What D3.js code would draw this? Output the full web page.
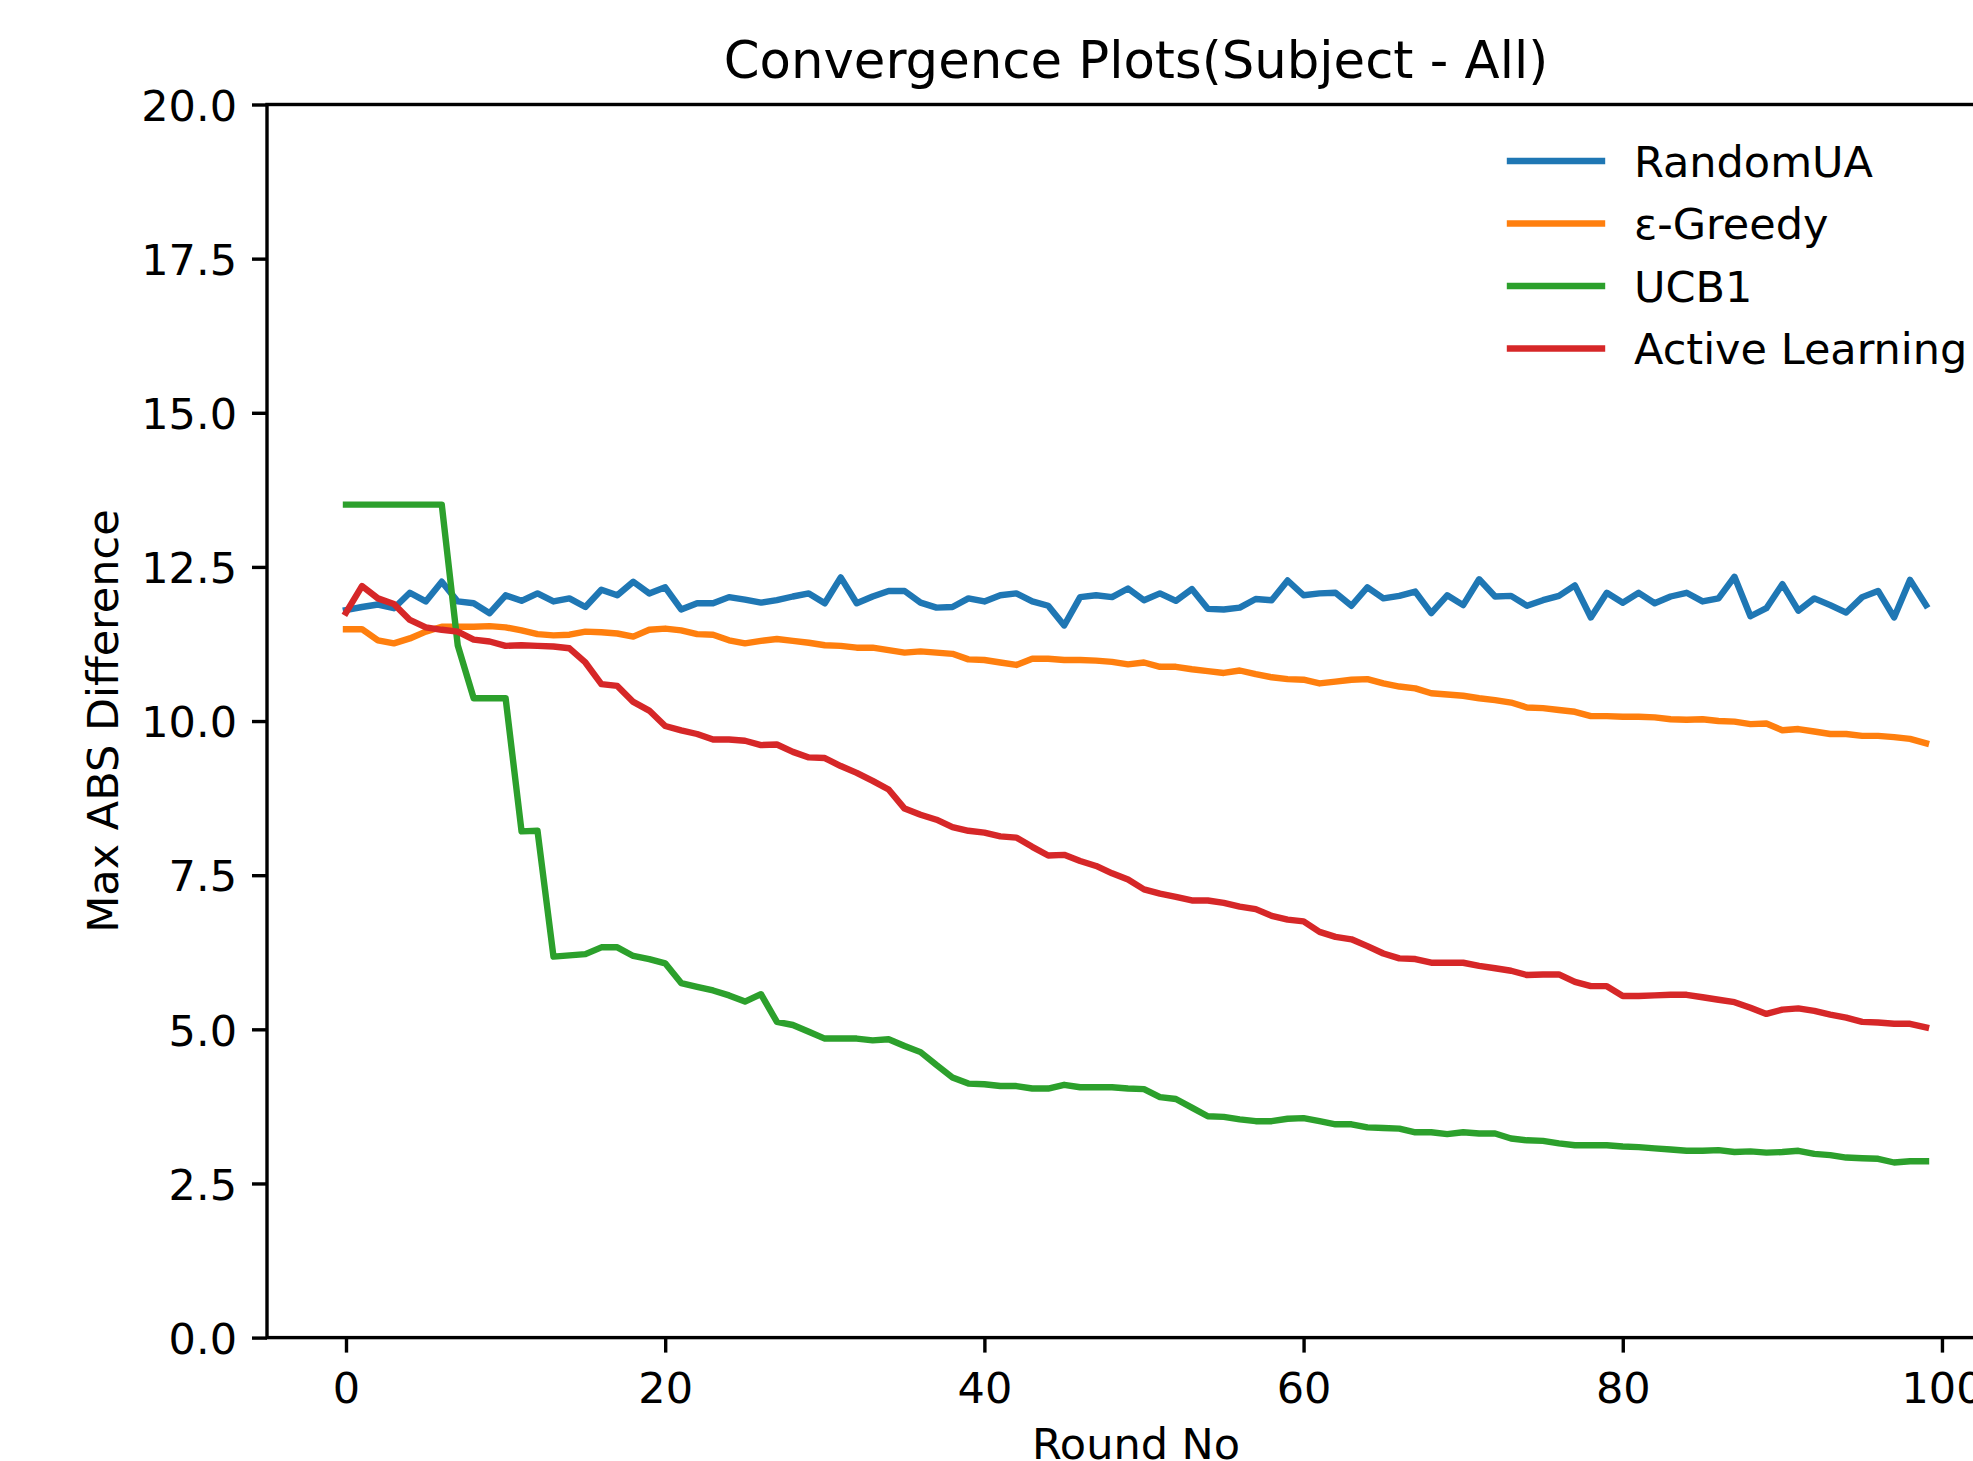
<!DOCTYPE html>
<html>
<head>
<meta charset="utf-8">
<script src="https://cdn.jsdelivr.net/npm/d3@7"></script>
<style>
html, body { margin: 0; padding: 0; background: #fff; overflow: hidden; }
svg { display: block; font-family: "DejaVu Sans", sans-serif; }
</style>
</head>
<body>
<svg id="chart" width="1973" height="1461"></svg>
<script>
const seriesNames = ["RandomUA", "ε-Greedy", "UCB1", "Active Learning"];
const seriesColors = ["#1f77b4", "#ff7f0e", "#2ca02c", "#d62728"];

const randomUA = [
  11.80, 11.85, 11.89, 11.83, 12.08, 11.94, 12.26, 11.94, 11.91, 11.75, 12.04, 11.95, 12.07, 11.94, 11.99, 11.85, 12.13, 12.04, 12.26, 12.07,
  12.17, 11.81, 11.91, 11.91, 12.01, 11.97, 11.92, 11.96, 12.02, 12.07, 11.91, 12.33, 11.91, 12.02, 12.11, 12.11, 11.92, 11.84, 11.85, 11.99,
  11.94, 12.04, 12.07, 11.94, 11.87, 11.55, 12.01, 12.04, 12.01, 12.15, 11.96, 12.07, 11.95, 12.14, 11.82, 11.81, 11.84, 11.98, 11.96, 12.28,
  12.04, 12.07, 12.08, 11.87, 12.17, 11.99, 12.03, 12.10, 11.75, 12.04, 11.88, 12.30, 12.02, 12.03, 11.87, 11.96, 12.03, 12.20, 11.68, 12.08,
  11.92, 12.08, 11.91, 12.02, 12.08, 11.94, 11.99, 12.34, 11.70, 11.83, 12.22, 11.79, 11.99, 11.88, 11.76, 12.01, 12.11, 11.68, 12.29, 11.88
];
const epsGreedy = [
  11.49, 11.49, 11.31, 11.26, 11.34, 11.45, 11.53, 11.53, 11.53, 11.54, 11.52, 11.47, 11.41, 11.39, 11.40, 11.45, 11.44, 11.42, 11.37, 11.48,
  11.50, 11.47, 11.41, 11.40, 11.31, 11.26, 11.30, 11.33, 11.30, 11.27, 11.23, 11.22, 11.19, 11.19, 11.15, 11.11, 11.13, 11.11, 11.09, 11.00,
  10.99, 10.95, 10.91, 11.01, 11.01, 10.99, 10.99, 10.98, 10.96, 10.92, 10.95, 10.88, 10.88, 10.84, 10.81, 10.78, 10.82, 10.76, 10.71, 10.68,
  10.67, 10.61, 10.64, 10.67, 10.68, 10.61, 10.56, 10.53, 10.45, 10.43, 10.41, 10.37, 10.34, 10.30, 10.22, 10.21, 10.18, 10.15, 10.08, 10.08,
  10.07, 10.07, 10.06, 10.03, 10.02, 10.03, 10.00, 9.99, 9.95, 9.96, 9.85, 9.87, 9.83, 9.79, 9.79, 9.76, 9.76, 9.74, 9.71, 9.64
];
const ucb1 = [
  13.51, 13.51, 13.51, 13.51, 13.51, 13.51, 13.51, 11.23, 10.37, 10.37, 10.37, 8.21, 8.22, 6.18, 6.20, 6.22, 6.33, 6.33, 6.19, 6.14,
  6.07, 5.75, 5.69, 5.63, 5.55, 5.45, 5.57, 5.12, 5.07, 4.96, 4.85, 4.85, 4.85, 4.82, 4.84, 4.73, 4.63, 4.42, 4.22, 4.12,
  4.11, 4.08, 4.08, 4.04, 4.04, 4.10, 4.06, 4.06, 4.06, 4.04, 4.03, 3.90, 3.87, 3.73, 3.59, 3.58, 3.54, 3.51, 3.51, 3.55,
  3.56, 3.51, 3.46, 3.46, 3.41, 3.40, 3.39, 3.33, 3.33, 3.30, 3.33, 3.31, 3.31, 3.23, 3.20, 3.19, 3.15, 3.12, 3.12, 3.12,
  3.10, 3.09, 3.07, 3.05, 3.03, 3.03, 3.04, 3.01, 3.02, 3.00, 3.01, 3.03, 2.98, 2.96, 2.92, 2.91, 2.90, 2.84, 2.86, 2.86
];
const activeLearning = [
  11.76, 12.19, 11.99, 11.90, 11.64, 11.52, 11.48, 11.45, 11.32, 11.29, 11.22, 11.23, 11.22, 11.21, 11.18, 10.95, 10.60, 10.57, 10.31, 10.17,
  9.92, 9.85, 9.79, 9.70, 9.70, 9.68, 9.61, 9.62, 9.50, 9.41, 9.40, 9.27, 9.16, 9.03, 8.89, 8.58, 8.48, 8.40, 8.28, 8.22,
  8.19, 8.13, 8.11, 7.96, 7.82, 7.83, 7.73, 7.65, 7.53, 7.43, 7.27, 7.20, 7.15, 7.09, 7.09, 7.05, 6.99, 6.95, 6.84, 6.78,
  6.75, 6.58, 6.50, 6.46, 6.35, 6.23, 6.15, 6.14, 6.08, 6.08, 6.08, 6.03, 5.99, 5.95, 5.88, 5.89, 5.89, 5.77, 5.70, 5.70,
  5.54, 5.54, 5.55, 5.56, 5.56, 5.52, 5.48, 5.44, 5.35, 5.25, 5.32, 5.34, 5.30, 5.24, 5.19, 5.12, 5.11, 5.09, 5.09, 5.03
];
const xTicks = [0, 20, 40, 60, 80, 100];
const yTicks = [0, 2.5, 5, 7.5, 10, 12.5, 15, 17.5, 20];
const titleText = "Convergence Plots(Subject - All)";
const xLabel = "Round No";
const yLabel = "Max ABS Difference";

const allSeries = [randomUA, epsGreedy, ucb1, activeLearning];

const svg = d3.select("#chart");
const L = 267, R = 2005, T = 104.5, B = 1337.6;
const x = d3.scaleLinear().domain([-4.95, 103.95]).range([L, R]);
const y = d3.scaleLinear().domain([0, 20]).range([B, T]);

const fontSize = 43;
const lw = 6.4;

// lines
const line = d3.line().x((d, i) => x(i)).y(d => y(d));
allSeries.forEach((s, k) => {
  svg.append("path")
    .datum(s)
    .attr("d", line)
    .attr("fill", "none")
    .attr("stroke", seriesColors[k])
    .attr("stroke-width", lw)
    .attr("stroke-linejoin", "round")
    .attr("stroke-linecap", "square");
});

// axes
const yAxis = d3.axisLeft(y).tickValues(yTicks).tickFormat(d3.format(".1f")).tickSize(15).tickPadding(15).tickSizeOuter(0);
const gy = svg.append("g").attr("transform", `translate(${L},0)`).call(yAxis);
gy.select(".domain").remove();
gy.selectAll(".tick line").attr("stroke", "#000").attr("stroke-width", 3.4);
gy.selectAll(".tick text").attr("font-size", fontSize).attr("font-family", "DejaVu Sans").attr("fill", "#000").attr("dy", "0.365em");

const xAxis = d3.axisBottom(x).tickValues(xTicks).tickFormat(d3.format("d")).tickSize(15).tickPadding(15).tickSizeOuter(0);
const gx = svg.append("g").attr("transform", `translate(0,${B})`).call(xAxis);
gx.select(".domain").remove();
gx.selectAll(".tick line").attr("stroke", "#000").attr("stroke-width", 3.4);
gx.selectAll(".tick text").attr("font-size", fontSize).attr("font-family", "DejaVu Sans").attr("fill", "#000").attr("y", 65.4).attr("dy", 0);

// spines
svg.append("rect")
  .attr("x", L).attr("y", T).attr("width", R - L).attr("height", B - T)
  .attr("fill", "none").attr("stroke", "#000").attr("stroke-width", 3.4)
  .attr("stroke-linecap", "square");

// title and labels
svg.append("text").attr("x", (L + R) / 2).attr("y", 78).attr("text-anchor", "middle")
  .attr("font-size", 51.3).attr("fill", "#000").text(titleText);
svg.append("text").attr("x", (L + R) / 2).attr("y", 1459).attr("text-anchor", "middle")
  .attr("font-size", fontSize).attr("fill", "#000").text(xLabel);
svg.append("text").attr("transform", `translate(118,${(T + B) / 2}) rotate(-90)`).attr("text-anchor", "middle")
  .attr("font-size", fontSize).attr("fill", "#000").text(yLabel);

// legend
const legend = svg.append("g").attr("transform", "translate(1510,161)");
seriesNames.forEach((name, k) => {
  const g = legend.append("g").attr("transform", `translate(0,${k * 62.5})`);
  g.append("line").attr("x1", 0).attr("x2", 92).attr("y1", 0).attr("y2", 0)
    .attr("stroke", seriesColors[k]).attr("stroke-width", lw).attr("stroke-linecap", "square");
  g.append("text").attr("x", 124).attr("y", 0).attr("dy", "0.365em")
    .attr("font-size", fontSize).attr("fill", "#000").text(name);
});
</script>
</body>
</html>
